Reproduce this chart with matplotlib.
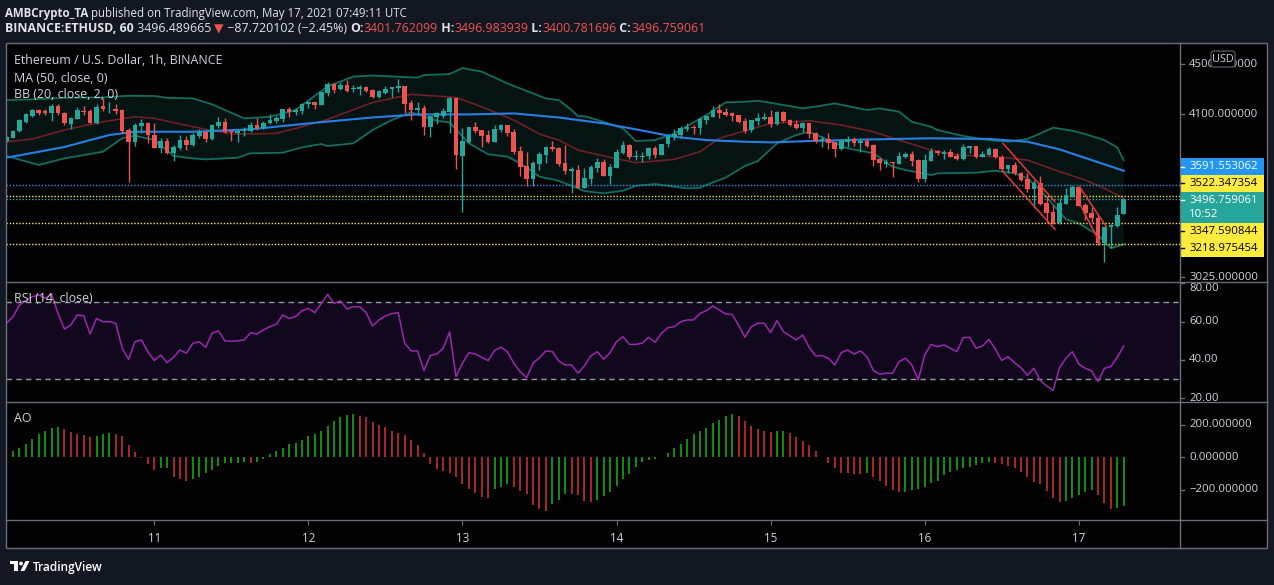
import numpy as np
import matplotlib
matplotlib.use("Agg")
import matplotlib.pyplot as plt
from matplotlib.patches import Rectangle, FancyBboxPatch, Circle, Polygon
from matplotlib.ticker import NullLocator

plt.rcParams['font.family'] = ['Open Sans', 'DejaVu Sans']

# ---------------------------------------------------------------- data
# hourly candles, hour 0 = 11 May 2021 00:00 UTC
hours = list(range(-23, 152))

opens = [3899, 3923, 3973, 4041, 4084, 4131, 4126, 4105, 4161, 4105,
         4027, 4064, 4123, 4123, 4034, 4161, 4136, 4139, 4131, 3980,
         3894, 4012, 4034, 3943, 3851, 3899, 3815, 3851, 3906, 3870,
         3936, 3967, 3914, 4010, 4041, 3975, 3960, 3970, 3973, 4017,
         3997, 4029, 4047, 4059, 4136, 4118, 4123, 4175, 4192, 4169,
         4266, 4336, 4295, 4328, 4293, 4295, 4309, 4287, 4234, 4266,
         4293, 4306, 4320, 4187, 4131, 4149, 4004, 4079, 4087, 4115,
         4224, 3792, 3892, 4002, 3980, 3943, 3894, 3980, 4017, 3967,
         3827, 3722, 3633, 3736, 3799, 3853, 3851, 3741, 3689, 3694,
         3574, 3633, 3710, 3750, 3655, 3710, 3815, 3870, 3787, 3782,
         3790, 3851, 3799, 3877, 3930, 3943, 3987, 4004, 3997, 4054,
         4079, 4131, 4115, 4105, 4092, 4047, 3980, 4049, 4062, 4077,
         4024, 4115, 4054, 4024, 3992, 4029, 3958, 3899, 3914, 3894,
         3839, 3894, 3914, 3882, 3901, 3870, 3770, 3736, 3751, 3736,
         3785, 3806, 3763, 3633, 3758, 3829, 3808, 3820, 3792, 3770,
         3851, 3863, 3787, 3799, 3841, 3782, 3703, 3727, 3676, 3633,
         3566, 3604, 3472, 3416, 3349, 3467, 3521, 3581, 3461, 3408,
         3377, 3227, 3320, 3330, 3401.762099]
highs = [3936, 3982, 4059, 4105, 4136, 4139, 4139, 4175, 4179, 4115,
         4079, 4151, 4161, 4136, 4179, 4221, 4193, 4175, 4136, 3993,
         4034, 4062, 4036, 4029, 3919, 3919, 3870, 3943, 3936, 3958,
         3987, 3973, 4024, 4077, 4067, 3980, 3987, 4004, 4041, 4071,
         4049, 4100, 4084, 4136, 4154, 4144, 4182, 4203, 4195, 4269,
         4350, 4346, 4350, 4370, 4328, 4328, 4320, 4293, 4287, 4320,
         4311, 4376, 4320, 4208, 4190, 4169, 4087, 4118, 4144, 4234,
         4226, 3997, 4000, 4041, 3980, 3980, 4017, 4024, 4017, 3987,
         3863, 3820, 3756, 3822, 3865, 3901, 3858, 3870, 3712, 3729,
         3710, 3729, 3777, 3768, 3734, 3841, 3899, 3875, 3834, 3818,
         3858, 3863, 3877, 3950, 3987, 4010, 4029, 4017, 4074, 4092,
         4161, 4179, 4144, 4118, 4092, 4067, 4054, 4105, 4105, 4131,
         4123, 4121, 4062, 4054, 4041, 4029, 3967, 3936, 3955, 3894,
         3916, 3936, 3926, 3919, 3919, 3877, 3782, 3768, 3751, 3822,
         3818, 3827, 3770, 3806, 3846, 3834, 3834, 3839, 3811, 3877,
         3863, 3863, 3825, 3853, 3851, 3799, 3727, 3747, 3682, 3671,
         3626, 3653, 3520, 3461, 3504, 3570, 3592, 3585, 3472, 3450,
         3397, 3324, 3340, 3450, 3496.983939]
lows = [3894, 3919, 3967, 4034, 4079, 4092, 4090, 4049, 4092, 4019,
        3985, 4059, 4092, 4029, 4024, 4126, 4110, 4097, 3960, 3615,
        3863, 3956, 3882, 3849, 3811, 3804, 3758, 3834, 3834, 3863,
        3921, 3894, 3906, 3997, 3956, 3899, 3894, 3936, 3963, 3980,
        3990, 4024, 4029, 4041, 4079, 4092, 4100, 4144, 4139, 4169,
        4242, 4266, 4287, 4274, 4274, 4250, 4269, 4221, 4226, 4253,
        4229, 4274, 4105, 4054, 4100, 3943, 3930, 4024, 4067, 3956,
        3701, 3418, 3882, 3960, 3858, 3882, 3894, 3967, 3936, 3806,
        3653, 3585, 3585, 3694, 3745, 3829, 3722, 3667, 3537, 3570,
        3574, 3599, 3682, 3655, 3599, 3710, 3804, 3770, 3763, 3750,
        3770, 3780, 3799, 3853, 3906, 3923, 3975, 3950, 3950, 4024,
        4079, 4071, 4087, 4047, 4029, 3960, 3967, 4017, 4054, 4004,
        4019, 4039, 4010, 3985, 3967, 3919, 3887, 3858, 3841, 3787,
        3834, 3853, 3865, 3822, 3853, 3724, 3694, 3713, 3648, 3736,
        3775, 3722, 3614, 3614, 3758, 3799, 3768, 3782, 3763, 3763,
        3815, 3780, 3782, 3799, 3780, 3687, 3671, 3660, 3621, 3548,
        3444, 3461, 3345, 3340, 3340, 3467, 3515, 3457, 3366, 3355,
        3213, 3114, 3193, 3324, 3400.781696]
closes = [3930, 3975, 4054, 4097, 4131, 4110, 4110, 4164, 4105, 4029,
          4071, 4133, 4115, 4034, 4154, 4136, 4141, 4123, 3973, 3894,
          4017, 4034, 3943, 3851, 3899, 3815, 3853, 3906, 3870, 3943,
          3967, 3914, 4017, 4041, 3967, 3965, 3975, 3985, 4017, 3997,
          4034, 4054, 4071, 4136, 4113, 4131, 4177, 4195, 4171, 4269,
          4336, 4287, 4328, 4282, 4306, 4314, 4279, 4234, 4279, 4295,
          4309, 4322, 4177, 4131, 4144, 4004, 4087, 4105, 4126, 4224,
          3799, 3899, 4000, 3973, 3936, 3894, 3987, 4017, 3960, 3822,
          3717, 3633, 3745, 3806, 3858, 3841, 3734, 3689, 3699, 3574,
          3642, 3717, 3750, 3655, 3717, 3820, 3870, 3787, 3794, 3792,
          3851, 3799, 3877, 3938, 3950, 3997, 4004, 3997, 4062, 4084,
          4131, 4108, 4094, 4087, 4041, 3973, 4054, 4069, 4077, 4024,
          4115, 4047, 4017, 3992, 4029, 3950, 3899, 3916, 3887, 3839,
          3899, 3916, 3882, 3901, 3863, 3763, 3741, 3751, 3745, 3792,
          3806, 3756, 3633, 3763, 3829, 3811, 3818, 3787, 3770, 3853,
          3863, 3787, 3806, 3841, 3787, 3701, 3727, 3671, 3626, 3566,
          3604, 3467, 3412, 3349, 3472, 3526, 3581, 3457, 3408, 3377,
          3227, 3320, 3334, 3397, 3496.759061]

# MA(50)
ma_hours = [-23, -14, -7, -3, 6, 15, 25, 34, 41, 49, 56, 63, 70, 75, 81, 86,
            92, 96, 102, 112, 121, 130, 136, 141, 146, 151]
ma_vals = [3780, 3856, 3943, 3967, 3967, 3985, 4034, 4074, 4097, 4097, 4105,
           4074, 4029, 3985, 3930, 3906, 3894, 3889, 3899, 3911, 3919, 3914,
           3894, 3839, 3763, 3689]

# Bollinger bands (20, 2)
bb_up_hours = [-23, -19, -14, -8, -4, 0, 2, 6, 9, 14, 18, 22, 27, 31, 34, 41,
               42, 46, 48, 51, 55, 61, 63, 65, 66, 67, 70, 73, 75, 78, 81, 86,
               89, 92, 94, 96, 101, 103, 106, 111, 113, 116, 118, 121, 122,
               126, 130, 133, 136, 138, 140, 143, 145, 148, 150, 151]
bb_up_vals = [4208, 4214, 4226, 4229, 4242, 4240, 4226, 4221, 4175, 4067,
              4079, 4131, 4317, 4396, 4405, 4388, 4409, 4417, 4467, 4437,
              4341, 4221, 4208, 4131, 4084, 4084, 4041, 3992, 3899, 3906,
              3955, 4092, 4190, 4195, 4203, 4187, 4144, 4157, 4182, 4131,
              4144, 4118, 4041, 4004, 3980, 3936, 3906, 3894, 3914, 3955,
              3997, 3975, 3950, 3906, 3853, 3763]
bb_lo_hours = [-23, -18, -14, -8, -5, -3, 0, 3, 6, 8, 13, 15, 20, 23, 26, 27,
               31, 34, 37, 40, 44, 46, 49, 52, 55, 57, 60, 63, 67, 70, 73, 75,
               78, 81, 83, 85, 87, 89, 92, 94, 97, 100, 102, 105, 108, 112,
               115, 117, 121, 122, 128, 131, 134, 136, 138, 142, 144, 147,
               149, 151]
bb_lo_vals = [3792, 3729, 3775, 3822, 3919, 3938, 3906, 3792, 3775, 3768,
              3780, 3811, 3815, 3853, 3877, 3863, 3882, 3980, 4054, 4113,
              4049, 4036, 3882, 3804, 3787, 3741, 3649, 3621, 3552, 3537,
              3554, 3587, 3599, 3581, 3570, 3574, 3610, 3642, 3722, 3756,
              3882, 3943, 3967, 3906, 3846, 3811, 3717, 3694, 3660, 3671,
              3676, 3689, 3671, 3638, 3559, 3370, 3345, 3273, 3193, 3217]
bb_mid_hours = [-23, -19, -14, -8, -3, 0, 6, 10, 13, 19, 23, 27, 34, 40, 47,
                51, 56, 60, 63, 66, 70, 75, 81, 85, 88, 92, 96, 102, 107, 112,
                116, 121, 125, 131, 136, 141, 145, 148, 151]
bb_mid_vals = [3894, 3914, 3980, 4041, 4079, 4067, 4004, 3967, 3950, 3955,
               4004, 4059, 4190, 4253, 4229, 4156, 4054, 3950, 3906, 3834,
               3792, 3745, 3768, 3822, 3919, 3973, 4029, 4049, 4017, 3967,
               3906, 3834, 3799, 3787, 3763, 3683, 3626, 3570, 3504]

# RSI(14) per candle
rsi = [59.1, 62.5, 68.6, 70.8, 72.9, 73.8, 72.0, 74.3, 64.2, 56.1, 58.2, 63.4,
       63.0, 53.5, 61.6, 59.9, 59.9, 59.1, 46.1, 40.3, 49.5, 50.4, 44.3,
       39.7, 42.6, 38.6, 41.4, 45.2, 43.5, 48.7, 49.5, 46.6, 53.9,
       55.1, 49.9, 49.7, 50.0, 50.4, 54.2, 53.5, 55.6, 57.3, 58.5,
       63.4, 61.6, 62.5, 65.6, 66.8, 64.6, 69.4, 74.1, 69.4, 70.8,
       66.5, 67.7, 67.7, 64.6, 57.7, 60.8, 62.9, 64.1, 64.6, 48.7,
       44.7, 44.7, 34.5, 42.3, 43.1, 46.1, 54.6, 31.3, 38.3, 43.8,
       43.1, 41.4, 39.7, 44.9, 46.6, 44.3, 38.3, 33.9, 30.8, 38.3,
       41.2, 44.7, 44.3, 39.5, 37.4, 37.4, 33.1, 36.9, 42.1, 44.3,
       40.4, 43.8, 49.5, 52.1, 48.1, 48.1, 48.7, 51.8, 49.2, 53.9,
       56.8, 57.3, 59.9, 60.8, 60.8, 64.2, 65.6, 68.1, 66.0, 63.9,
       63.7, 58.2, 51.8, 57.3, 59.1, 59.1, 54.2, 60.4, 54.7, 52.6,
       50.4, 53.0, 46.6, 42.1, 42.3, 40.9, 37.4, 43.8, 45.2, 43.1,
       44.7, 41.7, 34.5, 32.6, 33.1, 33.1, 39.1, 40.9, 37.4, 29.6,
       42.6, 48.1, 46.9, 47.8, 46.1, 44.3, 51.6, 51.8, 46.1, 47.3,
       50.7, 45.7, 39.7, 41.7, 38.6, 36.0, 32.0, 35.7, 29.3, 26.5,
       24.1, 36.0, 40.9, 44.3, 37.9, 35.7, 34.3, 28.7, 35.7, 36.6,
       41.4, 47.3]

# Awesome Oscillator per candle (from hour -22)
ao_hours = list(range(-22, 152))
ao = [39, 59, 84, 111, 143, 164, 180, 186, 174, 154, 143, 137, 123, 131, 146,
      150, 141, 131, 76, 31, -6, -43,
      -78, -68, -64, -119, -133, -144, -133, -119, -94, -78,
      -51, -37, -35, -33, -31, -37, -31, -10, 20, 39,
      59, 80, 90, 107, 133, 143, 164, 195, 223, 246,
      260, 266, 254, 246, 219, 199, 184, 162, 152, 137,
      107, 76, 25, -43, -74, -82, -94, -119, -166, -197,
      -222, -246, -248, -197, -185, -164, -181, -205, -226, -296,
      -316, -328, -287, -263, -226, -228, -232, -269, -273, -263,
      -238, -211, -174, -133, -103, -57, -27, -17, -10, 0,
      29, 59, 82, 113, 143, 162, 182, 213, 230, 254,
      266, 254, 223, 193, 174, 162, 156, 162, 164, 148,
      127, 100, 76, 39, 0, -33, -68, -94, -99, -103,
      -105, -99, -119, -146, -174, -201, -215, -211, -201, -197,
      -185, -160, -146, -112, -92, -78, -68, -57, -47, -37,
      -31, -37, -43, -51, -64, -88, -119, -150, -166, -207,
      -248, -273, -267, -252, -232, -211, -201, -232, -283, -320,
      -314, -300]

# horizontal levels drawn by the author
level_prices = [3591.553062, 3522.347354, 3347.590844, 3218.975454]
level_colors = ['#2196f3', '#ffeb3b', '#ffeb3b', '#ffeb3b']
countdown = '10:52'

# drawn falling channels (hour, price)
channel_hours = [[132.2, 140.3], [132.2, 140.3], [144.1, 148.3], [144.1, 147.3]]
channel_prices = [[3882, 3482], [3683, 3308], [3581, 3324], [3472, 3225]]

day_ticks = [0, 24, 48, 72, 96, 120, 144]
day_labels = ['11', '12', '13', '14', '15', '16', '17']
price_ticks = [4500, 4100, 3025]
rsi_ticks = [80, 60, 40, 20]
ao_ticks = [200, 0, -200]

# ---------------------------------------------------------------- styling
W, H = 1274, 585
BG = '#131722'
TXT = '#d1d4dc'
BORDER = '#6b6e78'
UP, DOWN = '#26a69a', '#ef5350'

fig = plt.figure(figsize=(W / 100, H / 100), dpi=100, facecolor=BG)


def px_rect(x0, y0, x1, y1):
    return [x0 / W, 1 - y1 / H, (x1 - x0) / W, (y1 - y0) / H]


bg = fig.add_axes([0, 0, 1, 1], zorder=0)
bg.set_xlim(0, W)
bg.set_ylim(H, 0)
bg.axis('off')
bg.add_patch(Rectangle((6, 43), 1261, 505, facecolor='black', edgecolor='none'))

X0, X1 = -23.02, 159.69
ax_main = fig.add_axes(px_rect(6.5, 43, 1179.5, 281.7), zorder=1)
ax_rsi = fig.add_axes(px_rect(6.5, 281.7, 1179.5, 401.7), zorder=1)
ax_ao = fig.add_axes(px_rect(6.5, 401.7, 1179.5, 520), zorder=1)
for a in (ax_main, ax_rsi, ax_ao):
    a.set_facecolor('black')
    a.set_xlim(X0, X1)
    for s in a.spines.values():
        s.set_visible(False)
    a.tick_params(which='both', left=False, labelleft=False, bottom=False,
                  labelbottom=False, right=False, top=False)

# ---- main pane
ax_main.set_yscale('log')
ax_main.set_ylim(3000.4, 4680)
ax_main.yaxis.set_minor_locator(NullLocator())

poly_x = bb_up_hours + bb_lo_hours[::-1]
poly_y = bb_up_vals + bb_lo_vals[::-1]
ax_main.fill(poly_x, poly_y, color='#061313', lw=0, zorder=1)
ax_main.plot(bb_up_hours, bb_up_vals, color='#136c5f', lw=1.3, zorder=2)
ax_main.plot(bb_lo_hours, bb_lo_vals, color='#136c5f', lw=1.3, zorder=2)
ax_main.plot(bb_mid_hours, bb_mid_vals, color='#6e2024', lw=1.2, zorder=2)
ax_main.plot(ma_hours, ma_vals, color='#2680e3', lw=1.5, zorder=2)

for p, c in zip(level_prices, level_colors):
    ax_main.axhline(p, color=c, lw=1.0, ls=(0, (1, 1.3)), zorder=2)
ax_main.axhline(closes[-1], color=UP, lw=1.0, ls=(0, (1, 1.3)), zorder=2)

o = np.array(opens, float)
c = np.array(closes, float)
cols = [UP if cc >= oo else DOWN for oo, cc in zip(o, c)]
ax_main.vlines(hours, lows, highs, colors=cols, lw=1.0, zorder=3)
ax_main.bar(hours, np.abs(c - o), bottom=np.minimum(o, c), width=0.72,
            color=cols, linewidth=0, zorder=4)

for hh, pp in zip(channel_hours, channel_prices):
    ax_main.plot(hh, pp, color='#e53935', lw=1.1, zorder=5)

# ---- RSI pane
ax_rsi.set_ylim(18.3, 80.7)
ax_rsi.axhspan(30, 70, color='#12081d', lw=0, zorder=0)
for lv in (70, 30):
    ax_rsi.axhline(lv, color='#9598a1', lw=1.0, ls=(0, (4, 3)), zorder=1)
ax_rsi.plot(hours, rsi, color='#9c27b0', lw=1.1, zorder=2)

# ---- AO pane
ax_ao.set_ylim(-386, 342)
ao_cols = ['#109c10' if i == 0 or ao[i] >= ao[i - 1] else '#b82a2a'
           for i in range(len(ao))]
ax_ao.vlines(ao_hours, 0, ao, colors=ao_cols, lw=1.3)

ax_ao.set_xticks(day_ticks)
ax_ao.set_xticklabels(day_labels)
ax_ao.tick_params(axis='x', bottom=True, labelbottom=True, length=3.5,
                  color=BORDER, labelcolor=TXT, labelsize=8.4, pad=5)

# ---- price axes
def price_axis(rect, ylim, log, ticks, labels, shift=None):
    pa = fig.add_axes(rect, zorder=2)
    pa.set_xlim(0, 87)
    if log:
        pa.set_yscale('log')
    pa.set_ylim(*ylim)
    pa.axis('off')
    for t, lab in zip(ticks, labels):
        pa.plot([0, 4], [t, t], color=BORDER, lw=1, clip_on=True)
        va = 'center'
        if shift is not None and t == shift:
            va = 'top'
        pa.text(9, t, lab, va=va, ha='left', color=TXT, fontsize=8.2,
                clip_on=True)
    return pa


price_axis(px_rect(1180, 43, 1267, 281.7), ax_main.get_ylim(), True,
           price_ticks, ['%.6f' % t for t in price_ticks])
price_axis(px_rect(1180, 281.7, 1267, 401.7), ax_rsi.get_ylim(), False,
           rsi_ticks, ['%.2f' % t for t in rsi_ticks], shift=80)
price_axis(px_rect(1180, 401.7, 1267, 520), ax_ao.get_ylim(), False,
           ao_ticks, [('%.6f' % t).replace('-', '\u2212') for t in ao_ticks])

# ---- overlay (pixel coordinates)
ov = fig.add_axes([0, 0, 1, 1], zorder=5)
ov.set_xlim(0, W)
ov.set_ylim(H, 0)
ov.axis('off')

# frame
ov.add_patch(Rectangle((6, 43), 1261, 505, fill=False, edgecolor=BORDER, lw=1))
ov.plot([1180, 1180], [43, 548], color=BORDER, lw=1)
for yy in (281.7, 401.7, 520):
    ov.plot([6, 1267], [yy, yy], color=BORDER, lw=1)

# price label boxes
boxes = [
    (158.3, 175.0, '#2196f3', 'white', ['%.6f' % level_prices[0]]),
    (175.0, 191.7, '#ffeb3b', 'black', ['%.6f' % level_prices[1]]),
    (191.7, 222.7, UP, 'white', ['%.6f' % closes[-1], countdown]),
    (222.7, 240.0, '#ffeb3b', 'black', ['%.6f' % level_prices[2]]),
    (240.0, 256.7, '#ffeb3b', 'black', ['%.6f' % level_prices[3]]),
]
for y0, y1, fc, tc, lines in boxes:
    ov.add_patch(Rectangle((1180.5, y0), 83.5, y1 - y0, facecolor=fc,
                           edgecolor='none'))
    if len(lines) == 1:
        ov.text(1189, (y0 + y1) / 2, lines[0], color=tc, fontsize=8.2,
                va='center', ha='left')
        ov.plot([1180.5, 1184], [(y0 + y1) / 2] * 2, color=tc, lw=1)
    else:
        ov.text(1189, y0 + 8.5, lines[0], color=tc, fontsize=8.2,
                va='center', ha='left')
        ov.text(1189, y0 + 22.5, lines[1], color=tc, fontsize=8.2,
                va='center', ha='left')
        ov.plot([1180.5, 1184], [y0 + 8.5] * 2, color=tc, lw=1)

# USD box (covers the middle of the top price label, as in the source)
ov.add_patch(FancyBboxPatch((1211, 51), 24, 16, boxstyle='round,pad=0,rounding_size=3',
                            facecolor='black', edgecolor='#50535e', lw=1))
ov.text(1223, 59, 'USD', color=TXT, fontsize=7.8, ha='center', va='center')

# pane titles
for txt, yy in [('Ethereum / U.S. Dollar, 1h, BINANCE', 61),
                ('MA (50, close, 0)', 78), ('BB (20, close, 2, 0)', 94),
                ('RSI (14, close)', 298), ('AO', 418)]:
    ov.text(14, yy, txt, color=TXT, fontsize=8.9, va='center', ha='left')

# TradingView logo
ov.add_patch(Rectangle((10, 561), 8, 3, facecolor='white', edgecolor='none'))
ov.add_patch(Rectangle((14, 561), 3.5, 10, facecolor='white', edgecolor='none'))
ov.add_patch(Circle((21, 563.5), 1.9, facecolor='white', edgecolor='none'))
ov.add_patch(Polygon([(20.5, 571), (25.5, 561), (29.5, 561), (24.5, 571)],
                     closed=True, facecolor='white', edgecolor='none'))
ov.text(33, 567, 'TradingView', color='white', fontsize=8.6, va='center',
        ha='left', fontweight='semibold')

# ---- header
renderer = fig.canvas.get_renderer()


def header_line(y, pieces, size):
    x = 5.0
    for s, bold, col in pieces:
        t = fig.text(x / W, 1 - y / H, s, fontsize=size,
                     fontweight='bold' if bold else 'normal', color=col,
                     va='center', ha='left')
        x += t.get_window_extent(renderer=renderer).width


HW = '#e0e3eb'
header_line(13, [('AMBCrypto_TA', True, HW),
                 (' published on TradingView.com, May 17, 2021 07:49:11 UTC', False, HW)],
            8.3)
header_line(29, [('BINANCE:ETHUSD, 60', True, HW),
                 (' 3496.489665 ', False, HW),
                 ('\u25bc', False, DOWN),
                 (' \u221287.720102 (\u22122.45%) ', False, HW),
                 ('O:', True, HW), ('%.6f' % opens[-1], False, DOWN),
                 (' H:', True, HW), ('%.6f' % highs[-1], False, DOWN),
                 (' L:', True, HW), ('%.6f' % lows[-1], False, DOWN),
                 (' C:', True, HW), ('%.6f' % closes[-1], False, DOWN)],
            8.9)

fig.savefig('out.png', dpi=100, facecolor=BG)
